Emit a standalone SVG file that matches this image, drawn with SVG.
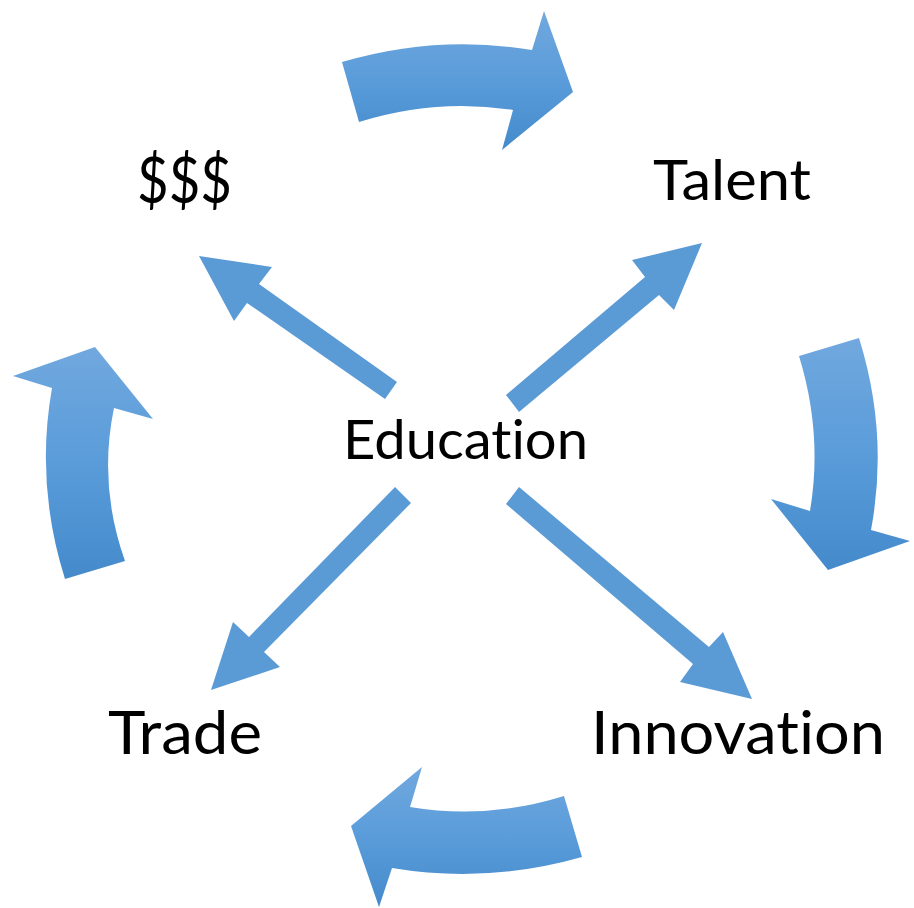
<svg xmlns="http://www.w3.org/2000/svg" width="914" height="908" viewBox="0 0 914 908">
  <style>
    .lbl { font-family: Lato, "Open Sans", "Liberation Sans", sans-serif; fill: #000000; font-variant-ligatures: none; font-feature-settings: "liga" 0, "clig" 0; }
    .straight { fill: #5B9BD5; }
    .curved { fill: url(#grad); }
  </style>
  <defs>
    <linearGradient id="grad" x1="0" y1="0" x2="0" y2="1">
      <stop offset="0" stop-color="#71A8DE"/>
      <stop offset="0.5" stop-color="#5A9CDA"/>
      <stop offset="1" stop-color="#448ACB"/>
    </linearGradient>
  </defs>
  <rect x="0" y="0" width="914" height="908" fill="#ffffff"/>

  <g id="connectors">
    <path id="cycle-top" class="curved" d="M342,62 Q437,34 532,50 L544,11 L573,92 L502,150 L513,110 Q436,98 359,122 Z"/>
    <path id="cycle-right" class="curved" d="M799,356 L859,338 Q889,434 871,530 L910,541 L828,570 L771,499 L810,511 Q823,434 799,356 Z"/>
    <path id="cycle-bottom" class="curved" d="M564,796 L582,857 Q487,884 392,868 L379,907 L351,826 L422,767 L410,807 Q487,820 564,796 Z"/>
    <path id="cycle-left" class="curved" d="M65,579 L125,561 Q98,485 114,408 L153,419 L95,347 L13,376 L52,388 Q35,484 65,579 Z"/>
    <path id="edu-money" class="straight" d="M199,256 L272,267 L259,284 L397,382 L385,399 L247,303 L234,321 Z"/>
    <path id="edu-trade" class="straight" d="M395,487 L411,503 L264,652 L280,667 L211,690 L233,622 L249,637 Z"/>
    <path id="edu-talent" class="straight" d="M506,395 L645,277 L632,260 L702,243 L674,310 L659,295 L519,412 Z"/>
    <path id="edu-innovation" class="straight" d="M519,487 L709,647 L723,632 L752,699 L680,682 L693,664 L506,504 Z"/>
  </g>

  <g id="node-education">
    <text class="lbl" x="343" y="459" font-size="55" textLength="245" lengthAdjust="spacingAndGlyphs">Education</text>
  </g>
  <g id="node-money">
    <text class="lbl" x="137" y="203" font-size="64" textLength="95" lengthAdjust="spacingAndGlyphs">$$$</text>
  </g>
  <g id="node-talent">
    <text class="lbl" x="653" y="200" font-size="57" textLength="158" lengthAdjust="spacingAndGlyphs">Talent</text>
  </g>
  <g id="node-trade">
    <text class="lbl" x="108" y="754" font-size="60" textLength="154" lengthAdjust="spacingAndGlyphs">Trade</text>
  </g>
  <g id="node-innovation">
    <text class="lbl" x="591" y="754" font-size="60" textLength="294" lengthAdjust="spacingAndGlyphs">Innovation</text>
  </g>
</svg>
